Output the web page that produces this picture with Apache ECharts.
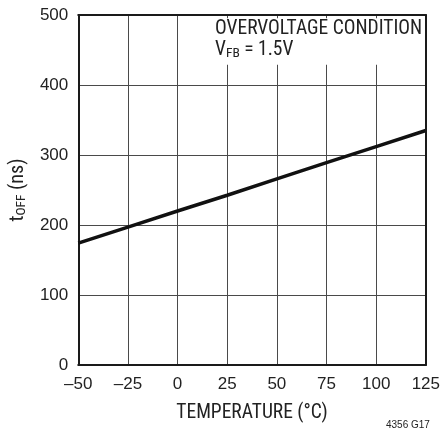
<!DOCTYPE html>
<html>
<head>
<meta charset="utf-8">
<style>
html,body{margin:0;padding:0;background:#fff;}
#chart{width:443px;height:432px;}
</style>
<script src="https://cdn.jsdelivr.net/npm/echarts@6/dist/echarts.min.js"></script>
</head>
<body>
<div id="chart"></div>
<script>
// Data
const temperatures = [-50, -25, 0, 25, 50, 75, 100, 125];
const tOffNs = [174, 197, 220, 242.5, 266, 289, 312, 335];
const xTickStep = 25;
const yTickStep = 100;

const chart = echarts.init(document.getElementById('chart'), null, {renderer: 'canvas'});
const frameColor = '#1a1a1a';
const gridColor = '#4a4a4a';
const textColor = '#222';
const narrow = '"Liberation Sans Narrow", "Roboto Condensed", "Liberation Sans", sans-serif';
const regular = '"Liberation Sans", Arial, sans-serif';

const option = {
  animation: false,
  grid: {left: 76, right: 16, top: 15, bottom: 67, show: false},
  xAxis: [{
    type: 'value', min: -50, max: 125, interval: xTickStep, position: 'bottom',
    axisLine: {show: true, onZero: false, lineStyle: {color: frameColor, width: 2}},
    axisTick: {show: false},
    axisLabel: {margin: 11, fontFamily: regular, fontSize: 17, color: textColor,
      formatter: v => String(v).replace('-', '\u2013')},
    splitLine: {show: true, lineStyle: {color: gridColor, width: 1}},
    name: 'TEMPERATURE (°C)', nameLocation: 'middle', nameGap: 38,
    nameTextStyle: {fontFamily: narrow, fontSize: 19.5, color: textColor}
  }, {
    type: 'value', min: -50, max: 125, interval: xTickStep, position: 'top', z: 10,
    axisLine: {show: true, onZero: false, lineStyle: {color: frameColor, width: 2}},
    axisTick: {show: false}, axisLabel: {show: false}, splitLine: {show: false}
  }],
  yAxis: [{
    type: 'value', min: 0, max: 500, interval: yTickStep, position: 'left',
    axisLine: {show: true, onZero: false, lineStyle: {color: frameColor, width: 2}},
    axisTick: {show: false},
    axisLabel: {margin: 10, fontFamily: regular, fontSize: 17, color: textColor},
    splitLine: {show: true, lineStyle: {color: gridColor, width: 1}},
    name: '{a|t}{b|OFF}{a| (ns)}', nameLocation: 'middle', nameGap: 40, nameRotate: 90,
    nameTextStyle: {
      color: textColor,
      rich: {
        a: {fontFamily: narrow, fontSize: 20, lineHeight: 22, color: textColor},
        b: {fontFamily: narrow, fontSize: 13.5, lineHeight: 12, verticalAlign: 'bottom', color: textColor}
      }
    }
  }, {
    type: 'value', min: 0, max: 500, interval: yTickStep, position: 'right', z: 10,
    axisLine: {show: true, onZero: false, lineStyle: {color: frameColor, width: 2}},
    axisTick: {show: false}, axisLabel: {show: false}, splitLine: {show: false}
  }],
  series: [{
    type: 'line',
    data: temperatures.map((t, i) => [t, tOffNs[i]]),
    showSymbol: false,
    lineStyle: {color: '#111', width: 3.5},
    z: 5,
    markArea: {
      silent: true,
      itemStyle: {color: '#fff'},
      data: [[{coord: [18, 429]}, {coord: [125, 495.5]}]]
    }
  }],
  graphic: [{
    type: 'text', left: 215, top: 19, z: 20,
    style: {
      text: '{a|OVERVOLTAGE CONDITION}\n{a|V}{b|FB}{a| = 1.5V}',
      rich: {
        a: {fontFamily: narrow, fontSize: 19.5, lineHeight: 21, fill: textColor},
        b: {fontFamily: narrow, fontSize: 13.5, lineHeight: 12, verticalAlign: 'bottom', fill: textColor}
      }
    }
  }, {
    type: 'text', left: 386, top: 420, z: 20,
    style: {text: '4356 G17', fontFamily: regular, fontSize: 10, fill: textColor}
  }]
};
chart.setOption(option);
</script>
</body>
</html>
